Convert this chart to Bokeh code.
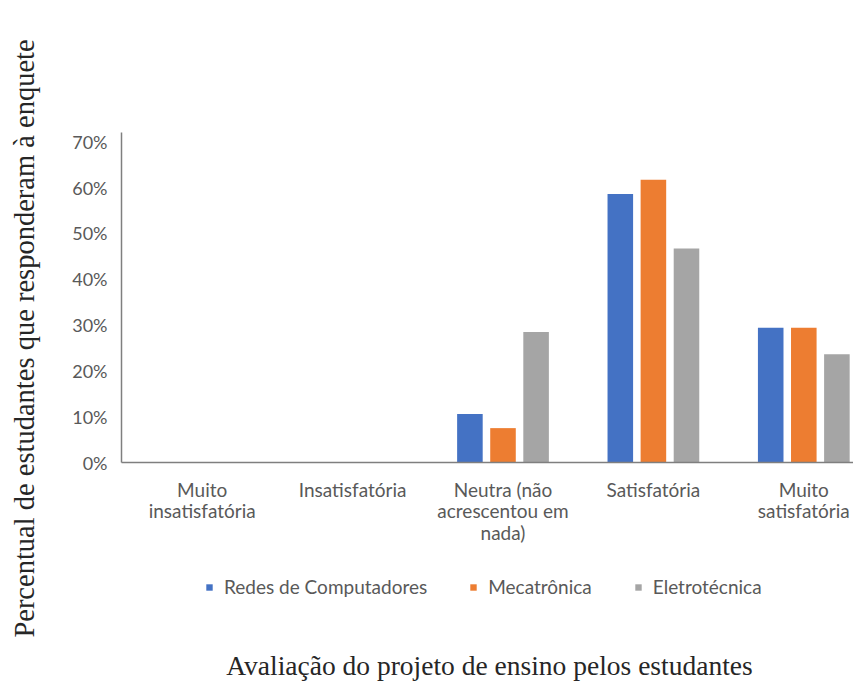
import math
from bokeh.plotting import figure
from bokeh.models import (ColumnDataSource, Range1d, FixedTicker, NumeralTickFormatter,
                          Legend, LegendItem, Label)
from bokeh.embed import file_html
from bokeh.resources import INLINE

categories = ["Muito\ninsatisfatória", "Insatisfatória", "Neutra (não\nacrescentou em\nnada)",
              "Satisfatória", "Muito\nsatisfatória"]
series_names = ["Redes de Computadores", "Mecatrônica", "Eletrotécnica"]
redes = [0.0, 0.0, 0.106, 0.586, 0.294]
mecatronica = [0.0, 0.0, 0.075, 0.617, 0.294]
eletrotecnica = [0.0, 0.0, 0.285, 0.467, 0.236]
y_ticks = [0.0, 0.1, 0.2, 0.3, 0.4, 0.5, 0.6, 0.7]
y_title = "Percentual de estudantes que responderam à enquete"
x_title = "Avaliação do projeto de ensino pelos estudantes"

colors = ["#4472C4", "#ED7D31", "#A5A5A5"]
offsets = [-0.22, 0.0, 0.22]
bar_w = 0.17

# page geometry (pixels)
W, H = 853, 682
axis_left_px, axis_top_px, axis_bottom_px = 121, 132, 462
cat_px = 150.4                       # pixels per category
y_max = 0.72                         # top of the value axis
px_per_unit = (axis_bottom_px - axis_top_px) / y_max

# value-space position of the axes' corner
x_axis_start = -0.5 - 5.5 / cat_px
x_start = x_axis_start - axis_left_px / cat_px
x_end = x_start + W / cat_px
y_start = -(H - axis_bottom_px) / px_per_unit
y_end = y_max + axis_top_px / px_per_unit

def sx(px):
    return x_start + px / cat_px

def sy(py):
    return (axis_bottom_px - py) / px_per_unit

label_font = "Lato"
tick_col = "#595959"
serif = "Liberation Serif"

p = figure(frame_width=W, frame_height=H, output_backend="svg", toolbar_location=None,
           x_range=Range1d(x_start, x_end), y_range=Range1d(y_start, y_end),
           min_border_left=0, min_border_right=0, min_border_top=0, min_border_bottom=0)
p.outline_line_color = None
p.grid.visible = False
p.background_fill_color = "white"
p.border_fill_color = "white"

idx = list(range(len(categories)))
items = []
for vals, name, col, off in zip([redes, mecatronica, eletrotecnica], series_names, colors, offsets):
    src = ColumnDataSource(dict(x=[i + off for i in idx], top=vals))
    r = p.vbar(x="x", top="top", width=bar_w, bottom=0, source=src,
               fill_color=col, line_color=None)
    items.append(LegendItem(label=name, renderers=[r]))

xa = p.xaxis[0]
xa.fixed_location = 0
xa.bounds = (x_axis_start, x_end)
xa.ticker = FixedTicker(ticks=idx)
xa.major_label_overrides = {i: c for i, c in zip(idx, categories)}
xa.major_tick_line_color = None
xa.minor_tick_line_color = None
xa.axis_line_color = "#7F7F7F"
xa.axis_line_width = 1.5
xa.major_label_text_font = label_font
xa.major_label_text_font_size = "19px"
xa.major_label_text_line_height = 0.94
xa.major_label_text_color = tick_col
xa.major_label_standoff = 9

ya = p.yaxis[0]
ya.fixed_location = x_axis_start
ya.bounds = (0, y_max)
ya.ticker = FixedTicker(ticks=y_ticks)
ya.formatter = NumeralTickFormatter(format="0%")
ya.major_tick_line_color = None
ya.minor_tick_line_color = None
ya.axis_line_color = "#7F7F7F"
ya.axis_line_width = 1.5
ya.major_label_text_font = label_font
ya.major_label_text_font_size = "18px"
ya.major_label_text_color = tick_col
ya.major_label_standoff = 8

legend = Legend(items=items, orientation="horizontal", location=(205, H - 598),
                glyph_width=8, glyph_height=8, label_standoff=11, spacing=42,
                label_text_font=label_font, label_text_font_size="19px",
                label_text_color=tick_col, border_line_color=None,
                background_fill_alpha=0, padding=0, margin=0, label_height=22)
p.add_layout(legend)

ylab = Label(x=sx(24), y=sy(338), text=y_title, angle=math.pi / 2,
             text_align="center", text_baseline="middle",
             text_font=serif, text_font_size="28.5px", text_color="#262626")
p.add_layout(ylab)

xlab = Label(x=sx(489), y=sy(665), text=x_title,
             text_align="center", text_baseline="middle",
             text_font=serif, text_font_size="27.5px", text_color="#262626")
p.add_layout(xlab)

open("out.html", "w").write(file_html(p, INLINE))
